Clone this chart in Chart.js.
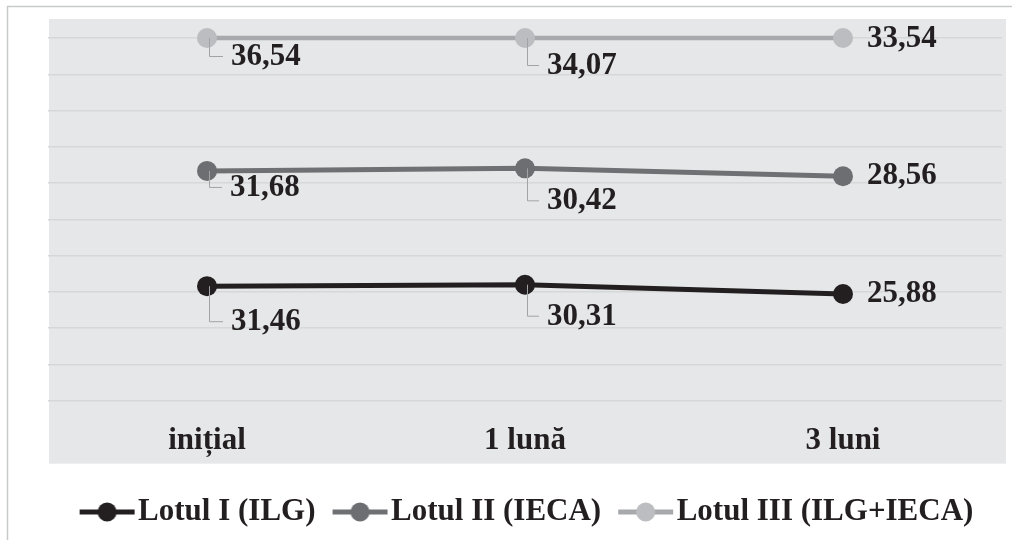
<!DOCTYPE html>
<html>
<head>
<meta charset="utf-8">
<script src="https://cdn.jsdelivr.net/npm/chart.js@4.4.0/dist/chart.umd.min.js"></script>
<style>
html,body{margin:0;padding:0;background:#ffffff;}
#wrap{position:relative;width:1012px;height:540px;}
</style>
</head>
<body>
<div id="wrap"><canvas id="c"></canvas></div>
<script>
// ---- data ----
const categories = ['inițial', '1 lună', '3 luni'];
const seriesNames = ['Lotul I (ILG)', 'Lotul II (IECA)', 'Lotul III (ILG+IECA)'];
const lotulI = [31.46, 30.31, 25.88];
const lotulII = [31.68, 30.42, 28.56];
const lotulIII = [36.54, 34.07, 33.54];

// ---- styles ----
const lineColors = ['#231f20', '#6f7073', '#a7a9ac'];
const pointColors = ['#231f20', '#6d6e71', '#bcbdc0'];
const lineWidths = [5, 5, 4.5];
const FONT = "'Liberation Serif', 'Times New Roman', serif";
const TEXT = '#231f20';
// label offsets [dx, dy] relative to each point (style only)
const labelOffsets = [
  [[24, 36], [22, 32], [24, 0]],
  [[23, 17], [22, 33], [24, 0]],
  [[24, 19], [22, 28], [24, 1]]
];

const raw = [lotulI, lotulII, lotulIII];
const totals = categories.map((_, j) => raw.reduce((s, arr) => s + arr[j], 0));
const shares = raw.map(arr => arr.map((v, j) => v / totals[j] * 100));

function legendMarker(i) {
  const cv = document.createElement('canvas');
  cv.width = 70; cv.height = 22;
  const g = cv.getContext('2d');
  g.strokeStyle = lineColors[i];
  g.lineWidth = 5;
  g.beginPath(); g.moveTo(14, 11); g.lineTo(69, 11); g.stroke();
  g.fillStyle = pointColors[i];
  g.beginPath(); g.arc(41.5, 11, 9.5, 0, Math.PI * 2); g.fill();
  return cv;
}
const markers = [0, 1, 2].map(legendMarker);

const bgPlugin = {
  id: 'bg',
  beforeDraw(chart) {
    const ctx = chart.ctx, a = chart.chartArea;
    ctx.save();
    ctx.fillStyle = '#ffffff';
    ctx.fillRect(0, 0, chart.width, chart.height);
    ctx.fillStyle = '#e6e7e8';
    ctx.fillRect(a.left + 1, a.top - 19, a.right - a.left + 3, a.bottom - a.top + 82);
    ctx.strokeStyle = '#c8c9cb';
    ctx.lineWidth = 1.5;
    ctx.beginPath();
    ctx.moveTo(7.5, chart.height); ctx.lineTo(7.5, 6.5); ctx.lineTo(chart.width, 6.5);
    ctx.stroke();
    ctx.restore();
  }
};

const labelPlugin = {
  id: 'vals',
  afterDatasetsDraw(chart) {
    const ctx = chart.ctx;
    ctx.save();
    raw.forEach((arr, i) => {
      const meta = chart.getDatasetMeta(i);
      meta.data.forEach((pt, j) => {
        const [dx, dy] = labelOffsets[i][j];
        const x = pt.x, y = pt.y;
        if (j < 2) {
          ctx.strokeStyle = '#a2a3a6';
          ctx.lineWidth = 1;
          ctx.beginPath();
          ctx.moveTo(x + 2.5, y);
          ctx.lineTo(x + 2.5, y + dy - 0.5);
          ctx.lineTo(x + dx - 8, y + dy - 0.5);
          ctx.stroke();
        }
        ctx.fillStyle = TEXT;
        ctx.font = 'bold 31px ' + FONT;
        ctx.textAlign = 'left';
        ctx.textBaseline = 'middle';
        ctx.fillText(arr[j].toFixed(2).replace('.', ','), x + dx, y + dy);
      });
    });
    ctx.restore();
  }
};

new Chart(document.getElementById('c'), {
  type: 'line',
  data: {
    labels: categories,
    datasets: raw.map((arr, i) => ({
      label: seriesNames[i],
      data: shares[i],
      borderColor: lineColors[i],
      backgroundColor: pointColors[i],
      pointBackgroundColor: pointColors[i],
      pointBorderColor: pointColors[i],
      borderWidth: lineWidths[i],
      pointRadius: 10,
      pointBorderWidth: 0,
      tension: 0,
      fill: false,
      clip: false
    }))
  },
  options: {
    responsive: true,
    maintainAspectRatio: false,
    animation: false,
    events: [],
    layout: { padding: { left: 48, right: 8, top: 38, bottom: 2.5 } },
    scales: {
      x: {
        offset: true,
        grid: { display: false, drawTicks: false },
        border: { display: false },
        ticks: {
          color: TEXT,
          padding: 3.5,
          font: { family: FONT, size: 31, weight: 'bold', lineHeight: 2.35 }
        }
      },
      y: {
        stacked: true,
        min: 0, max: 100,
        grid: { color: '#d6d7d9', lineWidth: 1.5, drawTicks: false },
        border: { display: false },
        ticks: { display: false, stepSize: 10 }
      }
    },
    plugins: {
      tooltip: { enabled: false },
      legend: {
        position: 'bottom',
        labels: {
          usePointStyle: true,
          pointStyleWidth: 44,
          padding: 16,
          color: TEXT,
          font: { family: FONT, size: 31, weight: 'bold' },
          generateLabels(chart) {
            const items = Chart.defaults.plugins.legend.labels.generateLabels(chart);
            items.forEach((it, k) => { it.pointStyle = markers[k]; it.fontColor = TEXT; });
            return items;
          }
        }
      }
    }
  },
  plugins: [bgPlugin, labelPlugin]
});
</script>
</body>
</html>
